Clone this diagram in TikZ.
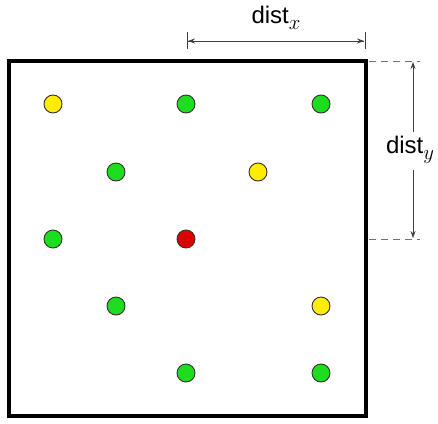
\documentclass[tikz,border=0pt]{standalone}
\usepackage{fontspec}
\setmainfont{Liberation Sans}
\usetikzlibrary{arrows.meta}
\definecolor{dotgreen}{RGB}{30,220,30}
\definecolor{dotyellow}{RGB}{255,236,0}
\definecolor{dotred}{RGB}{220,0,0}
\newcommand{\mysub}[1]{\raisebox{-6pt}{\fontsize{20}{20}\selectfont$#1$}}
\tikzset{
  dot/.style={circle, draw=black!80, line width=0.9pt, minimum size=18pt, inner sep=0pt},
  frame/.style={line width=4pt},
  dim/.style={line width=0.8pt, draw=black!75, -{Stealth[length=7pt,width=5pt]}},
  dimbar/.style={line width=0.8pt, draw=black!75},
  guide/.style={line width=0.7pt, draw=black!55, dash pattern=on 7pt off 5pt},
  lbl/.style={font=\fontsize{24}{28}\selectfont, inner sep=0pt}
}
\begin{document}
\begin{tikzpicture}[x=1pt,y=-1pt]
\useasboundingbox (0,0) rectangle (438,423);
\draw[frame] (9,61) rectangle (366,416);
% dots
\node[dot, fill=dotyellow] (d1) at (53,104) {};
\node[dot, fill=dotgreen] (d2) at (186,104) {};
\node[dot, fill=dotgreen] (d3) at (321,104) {};
\node[dot, fill=dotgreen] (d4) at (116,172) {};
\node[dot, fill=dotyellow] (d5) at (258,172) {};
\node[dot, fill=dotgreen] (d6) at (53,239) {};
\node[dot, fill=dotred] (d7) at (186,239) {};
\node[dot, fill=dotgreen] (d8) at (116,306) {};
\node[dot, fill=dotyellow] (d9) at (321,306) {};
\node[dot, fill=dotgreen] (d10) at (186,373) {};
\node[dot, fill=dotgreen] (d11) at (321,373) {};
% dist x
\coordinate (xa) at (187,41);
\coordinate (xb) at (365,41);
\node[lbl] (lx) at (276,18) {dist\mysub{x}};
\draw[dimbar] ([yshift=-8pt]xa) -- ([yshift=9pt]xa);
\draw[dimbar] ([yshift=-8pt]xb) -- ([yshift=9pt]xb);
\draw[dim] ([xshift=1pt]xa) -- ([xshift=-1pt]xb);
\draw[dim] ([xshift=-1pt]xb) -- ([xshift=1pt]xa);
% dist y
\coordinate (g1a) at (369,61);
\coordinate (g1b) at (420,61);
\coordinate (g2a) at (369,239);
\coordinate (g2b) at (420,239);
\draw[guide] (g1a) -- (g1b);
\draw[guide] (g2a) -- (g2b);
\node[lbl] (ly) at (410,150) {dist\mysub{y}};
\coordinate (ya) at (413,132);
\coordinate (yb) at (413,170);
\draw[dim] (ya) -- (413,62);
\draw[dim] (yb) -- (413,238);
\end{tikzpicture}
\end{document}
